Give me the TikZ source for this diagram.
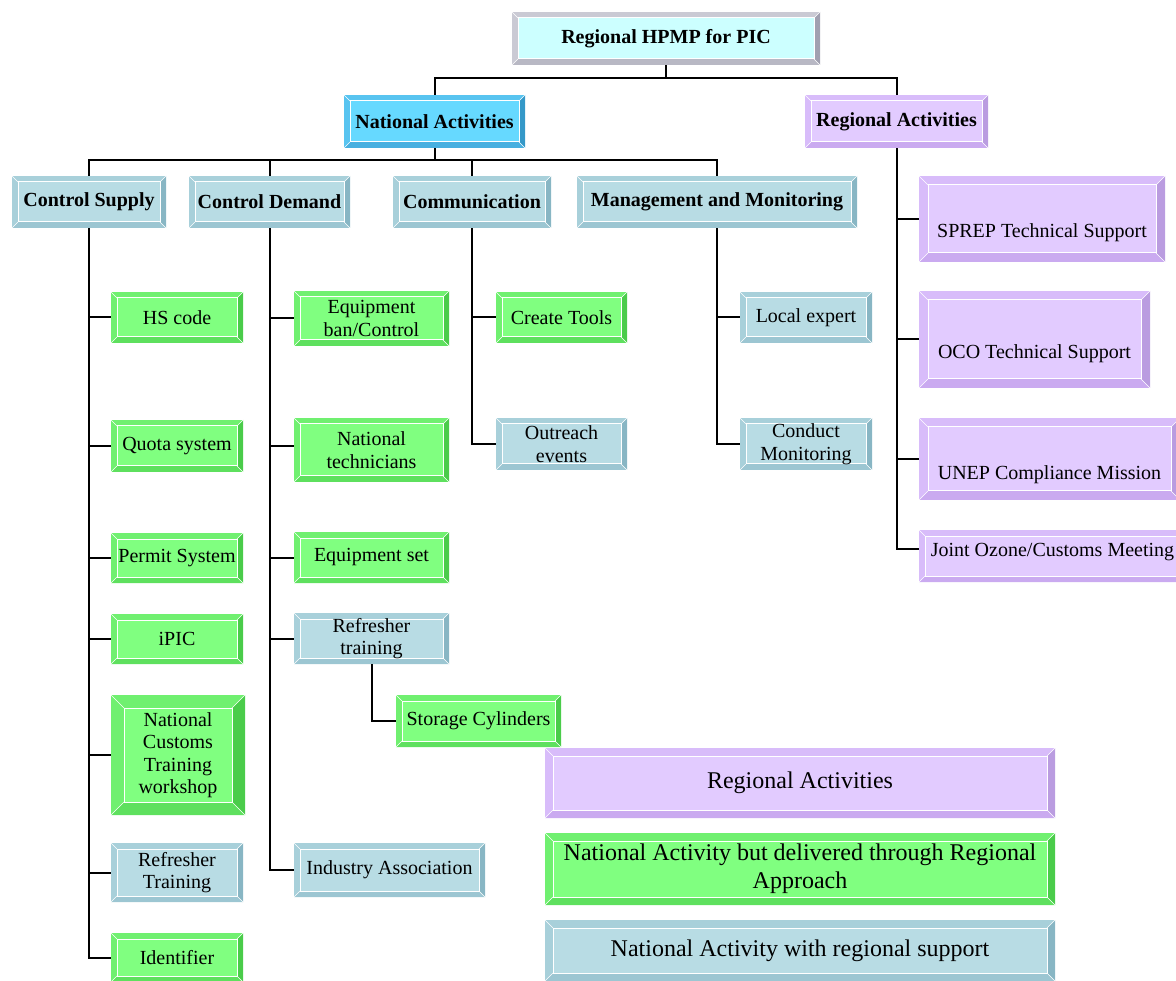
\documentclass[tikz,border=0pt]{standalone}
\usepackage{fontspec}
\setmainfont{Liberation Serif}
\usepackage{tikz}
\usetikzlibrary{positioning}

\definecolor{greenface}{HTML}{80FF80}
\definecolor{greenedge}{HTML}{70F070}
\definecolor{greenbot}{HTML}{5EE05E}
\definecolor{greenside}{HTML}{4ACC4A}
\definecolor{blueface}{HTML}{B8DCE4}
\definecolor{blueedge}{HTML}{A8D0DA}
\definecolor{bluebot}{HTML}{9CC6D2}
\definecolor{blueside}{HTML}{88B6C4}
\definecolor{purpface}{HTML}{E2CBFF}
\definecolor{purpedge}{HTML}{D8BCFA}
\definecolor{purpbot}{HTML}{CAAAF0}
\definecolor{purpside}{HTML}{BA9CE0}
\definecolor{cyanface}{HTML}{CCFFFF}
\definecolor{cyanedge}{HTML}{CACAD4}
\definecolor{cyanbot}{HTML}{B8B8C4}
\definecolor{cyanside}{HTML}{A0A0B0}
\definecolor{skyface}{HTML}{66D9FF}
\definecolor{skyedge}{HTML}{58C4F0}
\definecolor{skybot}{HTML}{48B0E0}
\definecolor{skyside}{HTML}{3498C8}

\def\bevw{6pt}

\tikzset{
  bw/.code={\def\bevw{#1}},
  bevel/.style={fill=#1edge, draw=none, inner sep=2pt, align=center,
    path picture={
      \path (path picture bounding box.south west) coordinate (bsw)
            (path picture bounding box.north east) coordinate (bne)
            (path picture bounding box.south east) coordinate (bse)
            (path picture bounding box.north west) coordinate (bnw);
      \fill[#1side] (bne) -- ([shift={(-\bevw,-\bevw)}]bne) -- ([shift={(-\bevw,\bevw)}]bse) -- (bse) -- cycle;
      \fill[#1bot] (bsw) -- ([shift={(\bevw,\bevw)}]bsw) -- ([shift={(-\bevw,\bevw)}]bse) -- (bse) -- cycle;
      \draw[white, line width=0.5pt]
        (bnw) -- ([shift={(\bevw,-\bevw)}]bnw) (bne) -- ([shift={(-\bevw,-\bevw)}]bne)
        (bsw) -- ([shift={(\bevw,\bevw)}]bsw) (bse) -- ([shift={(-\bevw,\bevw)}]bse);
      \draw[white, line width=1pt, fill=#1face]
        ([shift={(\bevw,\bevw)}]bsw) rectangle ([shift={(-\bevw,-\bevw)}]bne);
    }},
  gbox/.style={bevel=green},
  bbox/.style={bevel=blue},
  pbox/.style={bevel=purp},
  head/.style={font=\fontsize{20}{23}\selectfont\bfseries},
  legend/.style={font=\fontsize{24}{28}\selectfont, bw=8pt},
  low/.style={text height=#1, text depth=0pt},
  link/.style={draw=black, line width=2pt}
}

\begin{document}
\begin{tikzpicture}[x=1pt, y=-1pt, font=\fontsize{20}{22.5}\selectfont]
\useasboundingbox (0,0) rectangle (1176,981);

% top levels
\node[bevel=cyan, head, minimum width=308pt, minimum height=53pt] (top) at (666,38.5) {Regional HPMP for PIC};
\node[bevel=sky, head, minimum width=181pt, minimum height=53pt] (nat) at (434.5,121.5) {National Activities};
\node[pbox, head, minimum width=183pt, minimum height=53pt] (reg) at (896.5,121.5) {Regional Activities};

\node[bbox, head, minimum width=154pt, minimum height=52pt] (cs) at (89,202) {Control Supply};
\node[bbox, head, minimum width=161pt, minimum height=52pt] (cd) at (269.5,202) {Control Demand};
\node[bbox, head, minimum width=158pt, minimum height=52pt] (com) at (472,202) {Communication};
\node[bbox, head, minimum width=280pt, minimum height=52pt] (mm) at (717,202) {Management and Monitoring};

% control supply
\node[gbox, minimum width=132pt, minimum height=51pt] (hs) at (177,317.5) {HS code};
\node[gbox, minimum width=132pt, minimum height=52pt] (quota) at (177,446) {Quota system};
\node[gbox, minimum width=132pt, minimum height=50pt] (permit) at (177,558) {Permit System};
\node[gbox, minimum width=132pt, minimum height=50pt] (ipic) at (177,639) {iPIC};
\node[gbox, bw=13pt, minimum width=134pt, minimum height=120pt] (nct) at (178,755) {National\\Customs\\Training\\workshop};
\node[bbox, minimum width=132pt, minimum height=59pt] (rtcs) at (177,872.5) {Refresher\\Training};
\node[gbox, minimum width=132pt, minimum height=49pt] (ident) at (177,957.5) {Identifier};

% control demand
\node[gbox, minimum width=155pt, minimum height=55pt] (eqb) at (371.5,318.5) {Equipment\\ban/Control};
\node[gbox, minimum width=155pt, minimum height=64pt] (ntech) at (371.5,450) {National\\technicians};
\node[gbox, minimum width=155pt, minimum height=51pt] (eqset) at (371.5,557.5) {Equipment set};
\node[bbox, minimum width=155pt, minimum height=51pt] (rtcd) at (371.5,638.5) {Refresher\\training};
\node[gbox, minimum width=165pt, minimum height=52pt] (stor) at (478.5,721) {Storage Cylinders};
\node[bbox, minimum width=191pt, minimum height=54pt] (ind) at (389.5,870) {Industry Association};

% communication, monitoring
\node[gbox, minimum width=131pt, minimum height=51pt] (tools) at (561.5,317.5) {Create Tools};
\node[bbox, minimum width=131pt, minimum height=52pt] (outr) at (561.5,444) {Outreach\\events};
\node[bbox, minimum width=132pt, minimum height=51pt] (local) at (806,317.5) {Local expert};
\node[bbox, minimum width=132pt, minimum height=52pt] (cmon) at (806,444) {Conduct\\Monitoring};

% regional
\node[pbox, bw=9pt, low=38pt, minimum width=246pt, minimum height=86pt] (sprep) at (1042,219) {SPREP Technical Support};
\node[pbox, bw=9pt, low=39pt, minimum width=231pt, minimum height=97pt] (oco) at (1034.5,339.5) {OCO Technical Support};
\node[pbox, bw=9pt, low=40pt, minimum width=261pt, minimum height=82pt] (unep) at (1049.5,459) {UNEP Compliance Mission};
\node[pbox, low=0pt, minimum width=267pt, minimum height=52pt] (joint) at (1052.5,556) {Joint Ozone/Customs Meeting};

% legend
\node[pbox, legend, minimum width=510pt, minimum height=70pt] (kreg) at (800,783) {Regional Activities};
\node[gbox, legend, minimum width=510pt, minimum height=72pt] (knat) at (800,869) {National Activity but delivered through Regional\\Approach};
\node[bbox, legend, minimum width=510pt, minimum height=61pt] (ksup) at (800,950.5) {National Activity with regional support};

% connectors
\draw[link] (top.south) -- ++(0,13) coordinate (j0);
\draw[link] (j0) -| (nat.north);
\draw[link] (j0) -| (reg.north);
\draw[link] (nat.south) -- ++(0,12) coordinate (j1);
\draw[link] (j1) -| (cs.north);
\draw[link] (j1) -| (cd.north);
\draw[link] (j1) -| (com.north);
\draw[link] (j1) -| (mm.north);

\foreach \n in {hs, quota, permit, ipic, nct, rtcs, ident}
  \draw[link] (cs.south) |- (\n.west);
\foreach \n in {eqb, eqset, rtcd, ind}
  \draw[link] (cd.south) |- (\n.west);
\draw[link] (cd.south) |- ([yshift=4pt]ntech.west);
\draw[link] (rtcd.south) |- (stor.west);
\foreach \n in {tools, outr}
  \draw[link] (com.south) |- (\n.west);
\foreach \n in {local, cmon}
  \draw[link] (mm.south) |- (\n.west);
\foreach \n in {sprep, oco, unep}
  \draw[link] (reg.south) |- (\n.west);
\draw[link] (reg.south) |- ([yshift=7pt]joint.west);

\end{tikzpicture}
\end{document}
